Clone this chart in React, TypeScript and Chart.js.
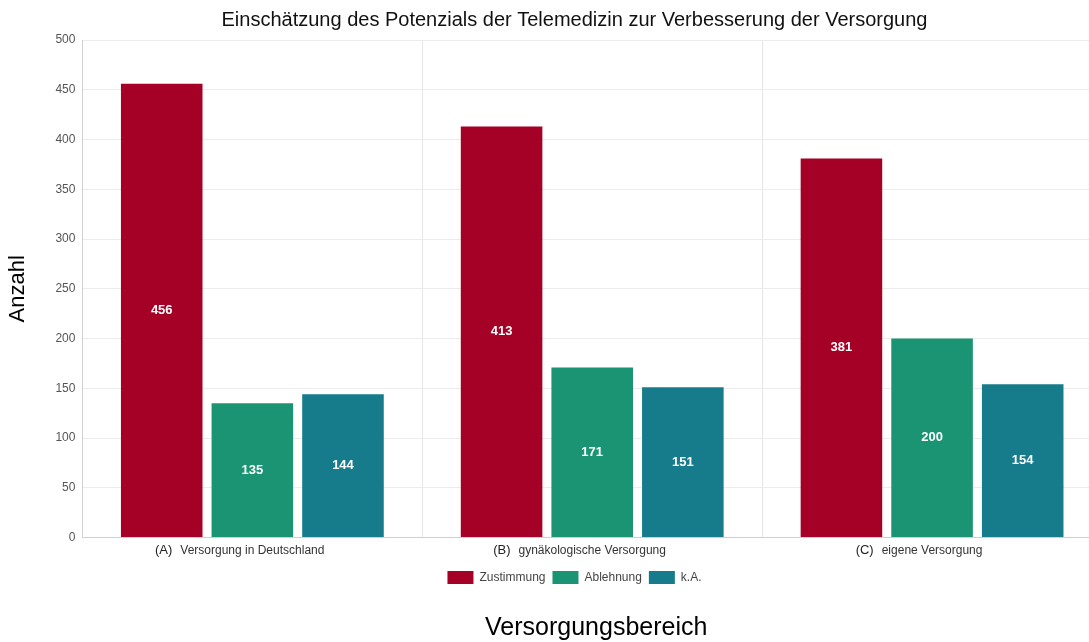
import React, { useEffect, useRef } from "react";
import { Chart, registerables } from "chart.js";

Chart.register(...registerables);

const categoryPrefixes = ["(A)", "(B)", "(C)"];
const categories = [
  "Versorgung in Deutschland",
  "gynäkologische Versorgung",
  "eigene Versorgung",
];
const zustimmung = [456, 413, 381];
const ablehnung = [135, 171, 200];
const keineAngabe = [144, 151, 154];
const yTicks = [0, 50, 100, 150, 200, 250, 300, 350, 400, 450, 500];
const xAxisTitle = "Versorgungsbereich";

const FONT = "Arial, 'Liberation Sans', Helvetica, sans-serif";

const valueLabels = {
  id: "valueLabels",
  afterDatasetsDraw(chart: any) {
    const ctx = chart.ctx;
    ctx.save();
    ctx.font = `bold 13px ${FONT}`;
    ctx.fillStyle = "#ffffff";
    ctx.textAlign = "center";
    ctx.textBaseline = "middle";
    chart.data.datasets.forEach((ds: any, i: number) => {
      const meta = chart.getDatasetMeta(i);
      meta.data.forEach((bar: any, j: number) => {
        const p = bar.getCenterPoint();
        ctx.fillText(String(ds.data[j]), p.x, p.y);
      });
    });
    ctx.restore();
  },
};

const extraTexts = {
  id: "extraTexts",
  afterDraw(chart: any) {
    const ctx = chart.ctx;
    const xs = chart.scales.x;
    const area = chart.chartArea;
    ctx.save();
    // category prefixes
    ctx.textBaseline = "middle";
    ctx.textAlign = "right";
    const y = area.bottom + 13;
    categories.forEach((lab, i) => {
      ctx.font = `12px ${FONT}`;
      const w = ctx.measureText(lab).width;
      const cx = xs.getPixelForTick(i);
      ctx.font = `13px ${FONT}`;
      ctx.fillStyle = "#222";
      ctx.fillText(categoryPrefixes[i], cx - w / 2 - 8, y);
    });
    // x axis title
    ctx.textAlign = "center";
    ctx.font = `25px ${FONT}`;
    ctx.fillStyle = "#000";
    ctx.fillText(xAxisTitle, (area.left + area.right) / 2 + 4, chart.height - 14);
    ctx.restore();
  },
};

export default function App() {
  const ref = useRef<HTMLCanvasElement | null>(null);
  useEffect(() => {
    if (!ref.current) return;
    const chart = new Chart(ref.current, {
      type: "bar",
      data: {
        labels: categories,
        datasets: [
          { label: "Zustimmung", data: zustimmung, backgroundColor: "#a50026" },
          { label: "Ablehnung", data: ablehnung, backgroundColor: "#1a9473" },
          { label: "k.A.", data: keineAngabe, backgroundColor: "#167b8a" },
        ],
      },
      options: {
        animation: false,
        responsive: true,
        maintainAspectRatio: false,
        layout: { padding: { left: 5, right: 10, top: 4, bottom: 48 } },
        datasets: { bar: { categoryPercentage: 0.8, barPercentage: 0.9 } },
        plugins: {
          title: {
            display: true,
            text: "Einschätzung des Potenzials der Telemedizin zur Verbesserung der Versorgung",
            color: "#111",
            font: { family: FONT, size: 20, weight: "normal" },
            padding: { top: 4, bottom: 8 },
          },
          legend: {
            position: "bottom",
            labels: {
              boxWidth: 26,
              boxHeight: 13,
              color: "#444",
              font: { family: FONT, size: 12 },
              padding: 7,
            },
          },
          tooltip: { enabled: false },
        },
        scales: {
          x: {
            grid: { color: "#e6e6e6", drawTicks: false },
            border: { color: "#cfcfcf" },
            ticks: { color: "#333", font: { family: FONT, size: 12 }, padding: 6 },
          },
          y: {
            min: 0,
            max: 500,
            afterBuildTicks: (axis: any) => {
              axis.ticks = yTicks.map((v) => ({ value: v }));
            },
            grid: { color: "#ececec", drawTicks: false },
            border: { color: "#cfcfcf" },
            ticks: { color: "#555", font: { family: FONT, size: 12 }, padding: 7 },
            title: {
              display: true,
              text: "Anzahl",
              color: "#000",
              font: { family: FONT, size: 22, weight: "normal" },
              padding: { top: 0, bottom: 17 },
            },
          },
          y2: {
            position: "right",
            min: 0,
            max: 1,
            grid: { display: false },
            border: { display: false },
            ticks: { display: false },
            afterFit: (axis: any) => {
              axis.width = 42;
            },
          },
        },
      },
      plugins: [valueLabels, extraTexts],
    });
    return () => chart.destroy();
  }, []);

  return (
    <div
      style={{
        position: "fixed",
        left: 0,
        top: 0,
        width: 1089,
        height: 642,
        overflow: "hidden",
        background: "#fff",
      }}
    >
      <div style={{ position: "relative", width: 1154, height: 642 }}>
        <canvas ref={ref} />
      </div>
    </div>
  );
}
